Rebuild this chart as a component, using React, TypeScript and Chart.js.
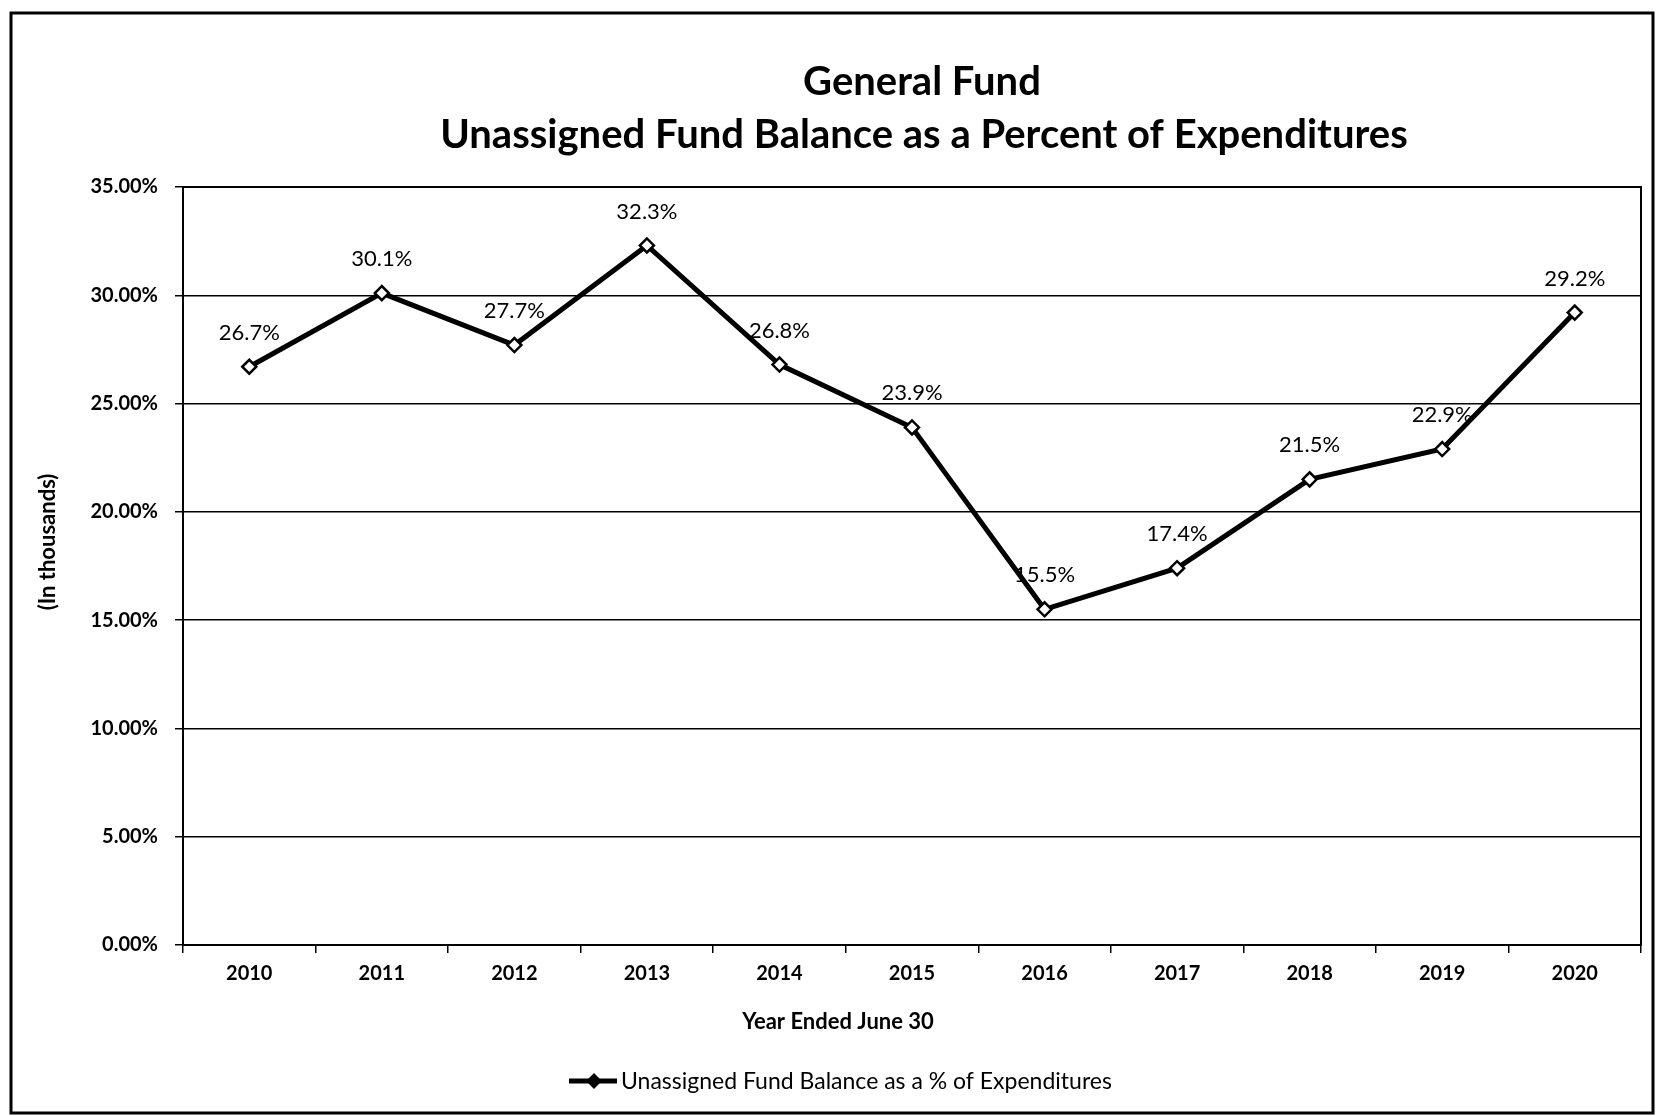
import React, { useEffect, useRef } from 'react';
import { Chart, registerables } from 'chart.js';

Chart.register(...registerables);

// ---- Data ----
const years = ['2010', '2011', '2012', '2013', '2014', '2015', '2016', '2017', '2018', '2019', '2020'];
const balancePct = [26.7, 30.1, 27.7, 32.3, 26.8, 23.9, 15.5, 17.4, 21.5, 22.9, 29.2];
const yTickValues = [0, 5, 10, 15, 20, 25, 30, 35];
const titleLines = ['General Fund', 'Unassigned Fund Balance as a Percent of Expenditures'];
const xAxisTitle = 'Year Ended June 30';
const yAxisTitle = '(In thousands)';
const seriesName = 'Unassigned Fund Balance as a % of Expenditures';

const FONT = 'Lato, "Open Sans", "DejaVu Sans", sans-serif';
const W = 1658;
const H = 1116;

function drawDiamond(ctx: CanvasRenderingContext2D, x: number, y: number, r: number, fill: string) {
  ctx.beginPath();
  ctx.moveTo(x, y - r);
  ctx.lineTo(x + r, y);
  ctx.lineTo(x, y + r);
  ctx.lineTo(x - r, y);
  ctx.closePath();
  ctx.fillStyle = fill;
  ctx.fill();
  ctx.lineWidth = 2;
  ctx.strokeStyle = '#000';
  ctx.stroke();
}

const decorPlugin = {
  id: 'decor',
  beforeDraw(chart: any) {
    const ctx = chart.ctx as CanvasRenderingContext2D;
    ctx.save();
    ctx.fillStyle = '#fff';
    ctx.fillRect(0, 0, chart.width, chart.height);
    ctx.restore();
  },
  afterDatasetsDraw(chart: any) {
    const ctx = chart.ctx as CanvasRenderingContext2D;
    const meta = chart.getDatasetMeta(0);
    ctx.save();
    ctx.font = `22px ${FONT}`;
    ctx.fillStyle = '#000';
    ctx.textAlign = 'center';
    ctx.textBaseline = 'middle';
    meta.data.forEach((pt: any, i: number) => {
      ctx.fillText(balancePct[i].toFixed(1) + '%', pt.x, pt.y - 34);
    });
    ctx.restore();
  },
  afterDraw(chart: any) {
    const ctx = chart.ctx as CanvasRenderingContext2D;
    const a = chart.chartArea;
    ctx.save();
    // plot area border
    ctx.strokeStyle = '#000';
    ctx.lineWidth = 2;
    ctx.strokeRect(a.left, a.top, a.right - a.left, a.bottom - a.top);
    // outer frame
    ctx.lineWidth = 3;
    ctx.strokeRect(11, 13, 1642, 1100);
    // title
    ctx.fillStyle = '#000';
    ctx.textAlign = 'center';
    ctx.textBaseline = 'middle';
    ctx.font = `bold 40px ${FONT}`;
    ctx.fillText(titleLines[0], 922, 82);
    ctx.fillText(titleLines[1], 924, 135);
    // x axis title
    ctx.font = `bold 22px ${FONT}`;
    ctx.fillText(xAxisTitle, 838, 1022);
    // y axis title
    ctx.save();
    ctx.translate(48, 542);
    ctx.rotate(-Math.PI / 2);
    ctx.font = `bold 22px ${FONT}`;
    ctx.fillText(yAxisTitle, 0, 0);
    ctx.restore();
    // legend
    const ly = 1081;
    ctx.strokeStyle = '#000';
    ctx.lineWidth = 5;
    ctx.beginPath();
    ctx.moveTo(569, ly);
    ctx.lineTo(617, ly);
    ctx.stroke();
    drawDiamond(ctx, 594, ly, 6.5, '#000');
    ctx.fillStyle = '#000';
    ctx.textAlign = 'left';
    ctx.textBaseline = 'middle';
    ctx.font = `23px ${FONT}`;
    ctx.fillText(seriesName, 621, ly + 1);
    ctx.restore();
  },
};

export default function App() {
  const canvasRef = useRef<HTMLCanvasElement | null>(null);

  useEffect(() => {
    if (!canvasRef.current) return;
    Chart.defaults.color = '#000';
    Chart.defaults.font.family = FONT;
    const chart = new Chart(canvasRef.current, {
      type: 'line',
      data: {
        labels: years,
        datasets: [
          {
            label: seriesName,
            data: balancePct,
            borderColor: '#000',
            borderWidth: 5,
            backgroundColor: '#fff',
            pointStyle: 'rectRot',
            pointRadius: 7,
            pointBorderWidth: 2.5,
            pointBackgroundColor: '#fff',
            pointBorderColor: '#000',
            tension: 0,
            fill: false,
          },
        ],
      },
      options: {
        responsive: false,
        animation: false,
        devicePixelRatio: 1,
        layout: {
          autoPadding: false,
          padding: { left: 0, right: 17, top: 187, bottom: 111 },
        },
        plugins: {
          legend: { display: false },
          title: { display: false },
          tooltip: { enabled: false },
        },
        scales: {
          x: {
            type: 'category',
            offset: true,
            afterFit(scale: any) {
              scale.height = 60;
            },
            grid: {
              display: true,
              offset: true,
              drawOnChartArea: false,
              drawTicks: true,
              tickLength: 8,
              color: '#000',
              lineWidth: 1.5,
            },
            border: { display: true, color: '#000', width: 2 },
            ticks: {
              font: { size: 20, weight: 'bold' },
              color: '#000',
              padding: 9,
              maxRotation: 0,
              autoSkip: false,
            },
          },
          y: {
            min: 0,
            max: 35,
            afterFit(scale: any) {
              scale.width = 183;
            },
            afterBuildTicks(scale: any) {
              scale.ticks = yTickValues.map((v) => ({ value: v }));
            },
            grid: {
              color: '#000',
              lineWidth: 1.5,
              drawTicks: true,
              tickLength: 8,
            },
            border: { display: true, color: '#000', width: 2 },
            ticks: {
              font: { size: 20, weight: 'bold' },
              color: '#000',
              padding: 17,
              callback: (v: any) => Number(v).toFixed(2) + '%',
            },
          },
        },
      },
      plugins: [decorPlugin],
    });
    const fonts: any = (document as any).fonts;
    if (fonts && fonts.load) {
      Promise.all([fonts.load(`22px Lato`), fonts.load(`bold 40px Lato`)])
        .then(() => chart.update())
        .catch(() => {});
    }
    return () => chart.destroy();
  }, []);

  return (
    <div style={{ position: 'absolute', left: 0, top: 0, width: W, height: H, background: '#fff' }}>
      <canvas ref={canvasRef} width={W} height={H} style={{ display: 'block', width: W, height: H }} />
    </div>
  );
}
